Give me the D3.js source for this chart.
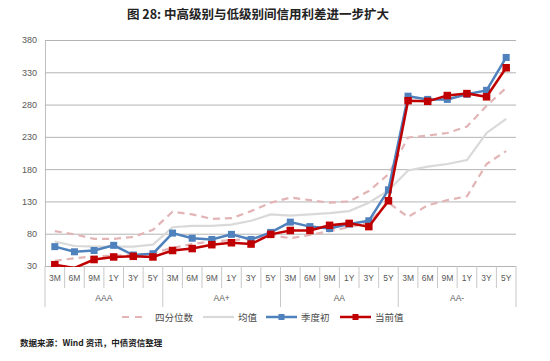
<!DOCTYPE html>
<html>
<head>
<meta charset="utf-8">
<script src="https://cdn.jsdelivr.net/npm/d3@7"></script>
<style>
  body { margin: 0; background: #fff; }
  svg { display: block; }
  text { font-family: "Liberation Sans", Arial, sans-serif; }
  .cjk { font-family: "Noto Sans CJK SC", sans-serif; }
</style>
</head>
<body>
<svg id="chart" width="550" height="361"></svg>
<script>
const groups = ['AAA', 'AA+', 'AA', 'AA-'];
const terms = ['3M', '6M', '9M', '1Y', '3Y', '5Y'];
const yTicks = [30, 80, 130, 180, 230, 280, 330, 380];

// 季度初
const quarterStart = [
  60, 52, 54, 62, 47, 49,
  81, 73, 71, 79, 71, 82,
  98, 91, 88, 95, 100, 148,
  293, 288, 288, 296, 302, 353
];
// 当前值
const current = [
  32, 27, 40, 44, 45, 44,
  54, 57, 63, 66, 64, 79,
  85, 85, 93, 96, 91, 131,
  286, 285, 294, 297, 292, 337
];
// 均值
const mean = [
  68, 61, 60, 60, 60, 63,
  90, 92, 92, 94, 100, 110,
  108, 110, 112, 115, 128, 147,
  178, 184, 188, 194, 236, 258
];
// 四分位数 (upper / lower)
const upperQ = [
  84, 79, 72, 72, 75, 86,
  114, 110, 103, 104, 115, 128,
  136, 132, 128, 130, 146, 172,
  229, 232, 236, 246, 278, 306
];
const lowerQ = [
  38, 42, 45, 46, 47, 50,
  58, 64, 68, 70, 72, 78,
  73, 78, 84, 90, 97, 128,
  106, 124, 132, 138, 188, 208
];

const svg = d3.select('#chart');
const plotLeft = 45, plotRight = 516, plotTop = 40, plotBottom = 266;

const idx = d3.range(groups.length * terms.length);
const x = d3.scaleBand().domain(idx).range([plotLeft, plotRight]);
const cx = (i) => x(i) + x.bandwidth() / 2;
const y = d3.scaleLinear().domain([30, 380]).range([plotBottom, plotTop]);

// plot area clip, values under the axis minimum are cut off
svg.append('defs').append('clipPath').attr('id', 'plot-clip')
  .append('rect')
  .attr('x', plotLeft - 10).attr('y', plotTop - 10)
  .attr('width', plotRight - plotLeft + 20).attr('height', plotBottom - plotTop + 11);

// title
svg.append('text')
  .attr('class', 'cjk')
  .attr('x', 258).attr('y', 19)
  .attr('text-anchor', 'middle')
  .attr('font-size', 12.5).attr('font-weight', 'bold')
  .attr('fill', '#222')
  .text('图 28: 中高级别与低级别间信用利差进一步扩大');

// gridlines + y axis labels
const yAxis = d3.axisLeft(y).tickValues(yTicks).tickSize(-(plotRight - plotLeft)).tickPadding(8);
svg.append('g')
  .attr('transform', `translate(${plotLeft},0)`)
  .call(yAxis)
  .call((g) => g.select('.domain').attr('stroke', '#bfbfbf'))
  .call((g) => g.selectAll('.tick line').attr('stroke', '#b4b4b4'))
  .call((g) => g.selectAll('.tick text').attr('fill', '#595959').attr('font-size', 9));

// category axis (two rows)
const xa = svg.append('g');
xa.selectAll('line.minor').data(d3.range(idx.length + 1))
  .join('line')
  .attr('x1', (i) => plotLeft + i * x.step()).attr('x2', (i) => plotLeft + i * x.step())
  .attr('y1', plotBottom).attr('y2', (i) => (i % terms.length === 0 ? 307 : 288))
  .attr('stroke', '#c8c8c8');
xa.selectAll('text.term').data(idx)
  .join('text')
  .attr('x', cx).attr('y', 281)
  .attr('text-anchor', 'middle')
  .attr('font-size', 8.5).attr('fill', '#595959')
  .text((i) => terms[i % terms.length]);
xa.selectAll('text.group').data(groups)
  .join('text')
  .attr('x', (g, k) => plotLeft + (k + 0.5) * terms.length * x.step())
  .attr('y', 301)
  .attr('text-anchor', 'middle')
  .attr('font-size', 8.5).attr('fill', '#595959')
  .text((g) => g);

const line = d3.line().x((d, i) => cx(i)).y((d) => y(d));
const plot = svg.append('g').attr('clip-path', 'url(#plot-clip)');

const dashStyle = { stroke: '#e3b4b5', width: 2.2, dash: '7,5' };
[upperQ, lowerQ].forEach((s) => {
  plot.append('path').datum(s)
    .attr('d', line).attr('fill', 'none')
    .attr('stroke', dashStyle.stroke).attr('stroke-width', dashStyle.width)
    .attr('stroke-dasharray', dashStyle.dash);
});

plot.append('path').datum(mean)
  .attr('d', line).attr('fill', 'none')
  .attr('stroke', '#d9d9d9').attr('stroke-width', 2.2);

const marked = [
  { data: quarterStart, color: '#4f81bd', size: 7 },
  { data: current, color: '#c00000', size: 7.5 }
];
marked.forEach((s) => {
  plot.append('path').datum(s.data)
    .attr('d', line).attr('fill', 'none')
    .attr('stroke', s.color).attr('stroke-width', 2.5);
  plot.append('g').selectAll('rect').data(s.data.map((v, i) => ({ v, i })).filter((d) => d.v >= 30))
    .join('rect')
    .attr('x', (d) => cx(d.i) - s.size / 2)
    .attr('y', (d) => y(d.v) - s.size / 2)
    .attr('width', s.size).attr('height', s.size)
    .attr('fill', s.color);
});

// legend
const legend = [
  { label: '四分位数', x: 122, text: 155, type: 'dash', color: '#e3b4b5' },
  { label: '均值', x: 203, text: 238, type: 'line', color: '#d9d9d9' },
  { label: '季度初', x: 266, text: 301, type: 'mark', color: '#4f81bd' },
  { label: '当前值', x: 340, text: 375, type: 'mark', color: '#c00000' }
];
const ly = 317;
const lg = svg.append('g');
legend.forEach((l) => {
  const w = l.type === 'dash' ? 22 : 31;
  lg.append('line')
    .attr('x1', l.x).attr('x2', l.x + w).attr('y1', ly).attr('y2', ly)
    .attr('stroke', l.color).attr('stroke-width', l.type === 'mark' ? 2.5 : 2.2)
    .attr('stroke-dasharray', l.type === 'dash' ? '7,6' : null);
  if (l.type === 'mark') {
    lg.append('rect')
      .attr('x', l.x + w / 2 - 3).attr('y', ly - 3)
      .attr('width', 6).attr('height', 6).attr('fill', l.color);
  }
  lg.append('text')
    .attr('class', 'cjk')
    .attr('x', l.text).attr('y', ly + 3.5)
    .attr('font-size', 9.5).attr('fill', '#4a4a4a')
    .text(l.label);
});

// source note
svg.append('text')
  .attr('class', 'cjk')
  .attr('x', 20).attr('y', 346)
  .attr('font-size', 8.5).attr('font-weight', 'bold')
  .attr('fill', '#222')
  .text('数据来源：Wind 资讯，中债资信整理');
</script>
</body>
</html>
